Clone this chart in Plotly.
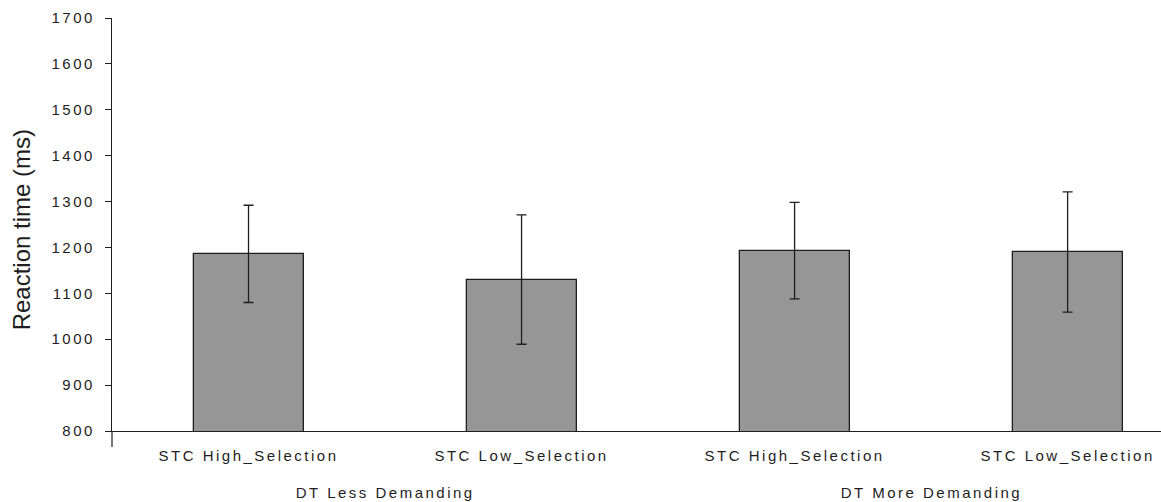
import plotly.graph_objects as go

# Mean reaction times (ms) with error bars, per task condition
conditions = ["STC High_Selection", "STC Low_Selection", "STC High_Selection", "STC Low_Selection"]
groups = ["DT Less Demanding", "DT More Demanding"]
mean_rt = [1186, 1130, 1193, 1190]
err_rt = [106, 141, 105, 131]
y_ticks = [800, 900, 1000, 1100, 1200, 1300, 1400, 1500, 1600, 1700]

positions = list(range(len(conditions)))
font_family = "Liberation Sans, Arial, sans-serif"
ink = "#1e1e1e"

fig = go.Figure(
    go.Bar(
        x=positions,
        y=mean_rt,
        width=0.403,
        marker=dict(color="#969696", line=dict(color=ink, width=1.3)),
        error_y=dict(type="data", array=err_rt, visible=True,
                     color=ink, thickness=1.3, width=5),
        showlegend=False,
    )
)

fig.update_layout(
    width=1161,
    height=502,
    margin=dict(l=112, r=0, t=18, b=71),
    plot_bgcolor="white",
    paper_bgcolor="white",
    font=dict(family=font_family, size=15, color=ink),
    bargap=0,
)

fig.update_xaxes(
    range=[-0.5, 3.342],
    tickvals=positions,
    ticktext=conditions,
    ticks="",
    showline=True,
    linecolor=ink,
    linewidth=1.2,
    showgrid=False,
    zeroline=False,
    ticklabelstandoff=11,
    tickfont=dict(size=15, color=ink),
)

fig.update_yaxes(
    range=[800, 1700],
    tickvals=y_ticks,
    ticks="outside",
    ticklen=6,
    tickwidth=1.2,
    tickcolor=ink,
    showline=True,
    linecolor=ink,
    linewidth=1.2,
    showgrid=False,
    zeroline=False,
    ticklabelstandoff=7,
    tickfont=dict(size=15, color=ink),
)

# Y axis line continues a little below the category axis
fig.add_shape(type="line", xref="x domain", yref="y domain",
              x0=0, x1=0, y0=0, y1=-0.039,
              line=dict(color=ink, width=1.2))

# Group labels under each pair of conditions
for i, g in enumerate(groups):
    fig.add_annotation(
        x=(positions[2 * i] + positions[2 * i + 1]) / 2,
        y=-0.148, xref="x", yref="paper",
        text=g, showarrow=False,
        xanchor="center", yanchor="middle",
        font=dict(size=15, color=ink),
    )

# Y axis title
fig.add_annotation(
    x=(21.5 - 112) / 1049, y=0.487, xref="paper", yref="paper",
    text="Reaction time (ms)", textangle=-90, showarrow=False,
    xanchor="center", yanchor="middle",
    font=dict(size=24, color=ink),
)

spacing_css = (
    "var s=document.createElement('style');"
    "s.textContent='.xtick text,.ytick text,"
    ".annotation[data-index=\"0\"] text,.annotation[data-index=\"1\"] text"
    "{letter-spacing:2.5px}';"
    "document.head.appendChild(s);"
)

fig.write_html("out.html", post_script=spacing_css)
